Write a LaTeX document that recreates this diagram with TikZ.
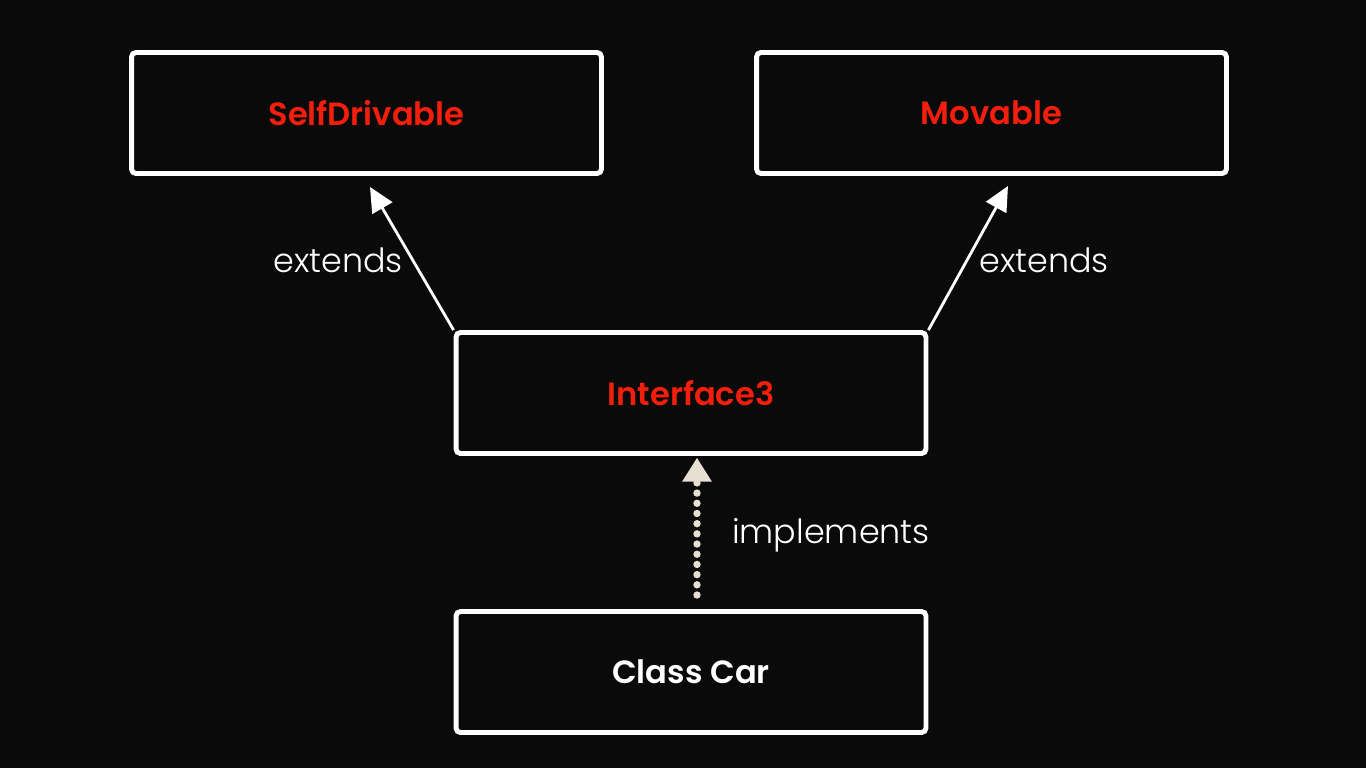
\documentclass[tikz,border=0pt]{standalone}
\usepackage{fontspec}
\setmainfont{Poppins}
\newfontfamily\labelfont{Poppins Light}
\newfontfamily\namefont{Poppins SemiBold}
\usetikzlibrary{arrows.meta}

\definecolor{bgblack}{HTML}{0A0A0A}
\definecolor{namered}{HTML}{F41E0C}
\definecolor{dotbeige}{HTML}{E6DFD2}

\begin{document}
\begin{tikzpicture}
[
	x=0.02cm,y=-0.02cm,
	umlbox/.style={draw=white,line width=2.8pt,rounded corners=2.5pt,inner sep=0pt,
		minimum width=9.4cm,minimum height=2.42cm,font=\namefont\fontsize{18.3}{20}\selectfont},
	ifacebox/.style={umlbox,text=namered},
	classbox/.style={umlbox,text=white},
	extendarrow/.style={draw=white,line width=1.6pt,-{Triangle[length=14pt,width=13pt]}},
	implarrow/.style={draw=dotbeige,line width=4.2pt,line cap=round,dash pattern=on 0pt off 5.8pt,
		-{Triangle[length=13.5pt,width=17pt,line width=0pt,fill=dotbeige]}},
	edgelabel/.style={text=white,font=\labelfont\fontsize{19}{22}\selectfont}
]

	% background
	\fill[bgblack] (0,0) rectangle (1366,768);

	% boxes
	\node[ifacebox] (selfdrv) at (366.5,113) {SelfDrivable};
	\node[ifacebox] (mov) at (991.5,113) {Movable};
	\node[ifacebox] (iface) at (691,393) {Interface3};
	\node[classbox] (car) at (691,672) {Class Car};

	% connectors
	\draw[extendarrow] (iface.north west) -- ([xshift=0.07cm,yshift=-0.22cm]selfdrv.south);
	\draw[extendarrow] (iface.north east) -- ([xshift=0.33cm,yshift=-0.2cm]mov.south);
	\draw[implarrow,shorten <=8pt] ([xshift=0.12cm]car.north) -- ([xshift=0.12cm,yshift=-0.04cm]iface.south);

	\node[edgelabel] (extleft) at (338,260) {extends};
	\node[edgelabel] (extright) at (1044,260) {extends};
	\node[edgelabel] (impl) at (831,535) {implements};

\end{tikzpicture}
\end{document}
